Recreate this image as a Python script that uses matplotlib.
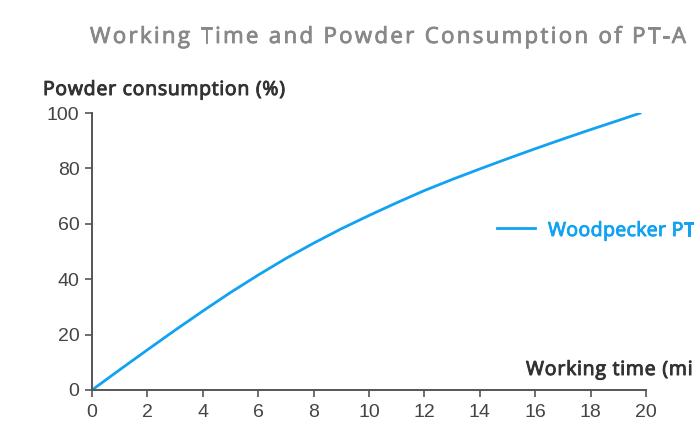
import numpy as np
import matplotlib
matplotlib.use('Agg')
import matplotlib.pyplot as plt
import matplotlib.patheffects as pe
from matplotlib.font_manager import FontProperties

# Working time (min) vs powder consumption (%)
working_time = [0, 1, 2, 3, 4, 5, 6, 7, 8, 9, 10, 11, 12, 13, 14, 15, 16, 17, 18, 19, 19.8]
powder_pct = [0, 7.3, 14.5, 21.6, 28.5, 35.2, 41.5, 47.5, 53, 58.2, 63, 67.6, 72,
              76, 79.8, 83.5, 87.1, 90.6, 94, 97.3, 100]
x_ticks = [0, 2, 4, 6, 8, 10, 12, 14, 16, 18, 20]
y_ticks = [0, 20, 40, 60, 80, 100]

LINE_COLOR = '#12a2f2'
AXIS_COLOR = '#555555'
W, H = 694, 424


def spaced_text(fig, x_px, y_px, s, size, color, target_w, upto=None,
                stroke=0.7, family='Open Sans'):
    """Draw text char by char, spreading letters so s[:upto] spans target_w pixels.
    A thin outline in the same colour gives the medium weight of the original."""
    renderer = fig.canvas.get_renderer()
    prop = FontProperties(family=family, size=size, weight='normal')

    def width(t):
        return renderer.get_text_width_height_descent(t, prop, ismath=False)[0]

    part = s[:upto] if upto else s
    track = (target_w - width(part)) / max(len(part) - 1, 1)
    ref_w = width('x')
    effects = [pe.withStroke(linewidth=stroke, foreground=color)]
    for i, ch in enumerate(s):
        off = 0.0 if i == 0 else width(s[:i] + 'x') - ref_w
        if ch == ' ':
            continue
        fig.text((x_px + off + i * track) / W, 1 - y_px / H, ch, fontproperties=prop,
                 color=color, ha='left', va='baseline', path_effects=effects)


fig = plt.figure(figsize=(W / 100, H / 100), dpi=100)
ax = fig.add_axes([92 / W, 34 / H, 554 / W, 277 / H])

ax.plot(working_time, powder_pct, color=LINE_COLOR, linewidth=2.0,
        solid_capstyle='round', solid_joinstyle='round')

ax.set_xlim(0, 20)
ax.set_ylim(0, 100)
ax.set_xticks(x_ticks)
ax.set_yticks(y_ticks)
ax.tick_params(axis='both', direction='out', length=5, width=1.2,
               color=AXIS_COLOR, labelcolor='#444444', labelsize=14)
ax.tick_params(axis='x', pad=5)
ax.tick_params(axis='y', pad=4)
for lbl in ax.get_xticklabels() + ax.get_yticklabels():
    lbl.set_family('Liberation Sans')

for side in ['top', 'right']:
    ax.spines[side].set_visible(False)
for side in ['left', 'bottom']:
    ax.spines[side].set_color(AXIS_COLOR)
    ax.spines[side].set_linewidth(1.4)

# title and axis titles (the right-hand ones run off the canvas, as in the source)
spaced_text(fig, 90, 43, 'Working Time and Powder Consumption of PT-A', 16, '#888888', 596,
            stroke=0.6)
spaced_text(fig, 43, 95, 'Powder consumption (%)', 14, '#333333', 242)
spaced_text(fig, 526, 375, 'Working time (min)', 14, '#333333', 161, upto=15)

# legend drawn by hand so it sits where the original does
fig.add_artist(plt.Line2D([497 / W, 535 / W], [1 - 228 / H, 1 - 228 / H],
                          color=LINE_COLOR, linewidth=2.0))
spaced_text(fig, 548, 236, 'Woodpecker PT-A', 14, LINE_COLOR, 118, upto=10)

fig.savefig('out.png', dpi=100, facecolor='white')
